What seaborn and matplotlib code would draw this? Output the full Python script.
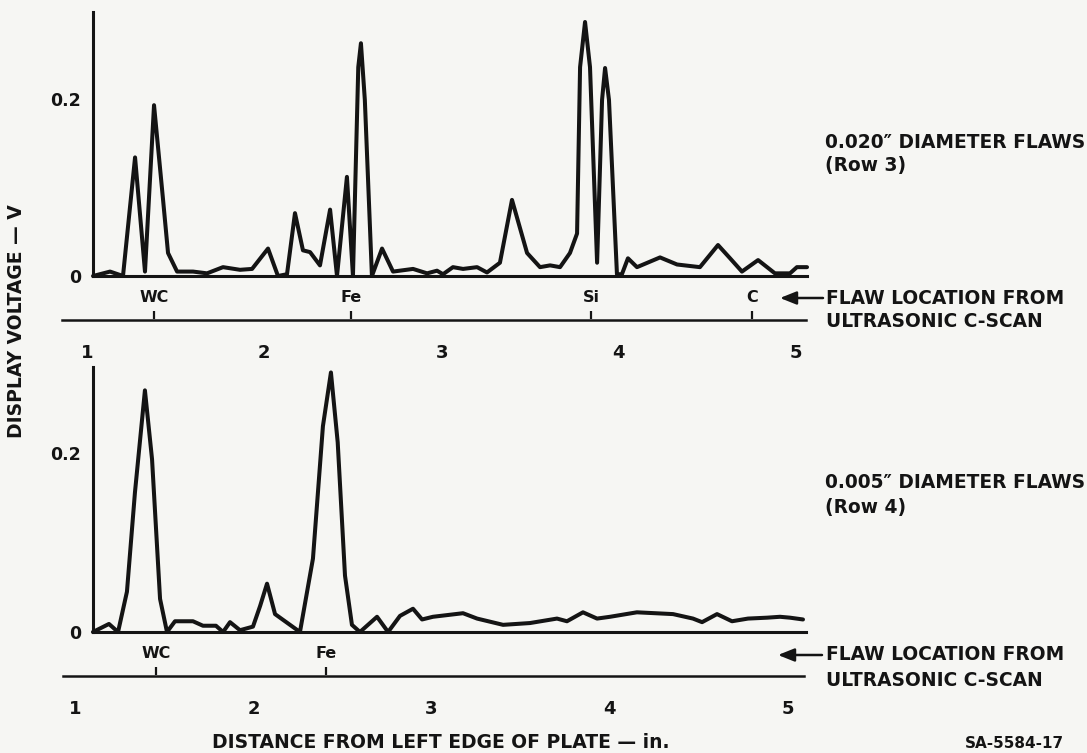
import matplotlib
matplotlib.use("Agg")
import matplotlib.pyplot as plt
import seaborn as sns
import pandas as pd
from matplotlib.patches import FancyArrowPatch

# ---------------- data ----------------
# Row 3 trace: distance (in.) and display voltage (V)
top_x = [1.034, 1.130, 1.203, 1.271, 1.327, 1.378, 1.429, 1.457, 1.508, 1.598,
         1.677, 1.767, 1.863, 1.931, 2.021, 2.077, 2.128, 2.173, 2.218, 2.258,
         2.314, 2.371, 2.410, 2.466, 2.500, 2.530, 2.545, 2.567, 2.607, 2.664,
         2.726, 2.839, 2.918, 2.974, 3.008, 3.064, 3.121, 3.200, 3.256, 3.329,
         3.397, 3.482, 3.555, 3.612, 3.668, 3.724, 3.764, 3.781, 3.809, 3.837,
         3.877, 3.905, 3.922, 3.944, 3.989, 4.017, 4.051, 4.102, 4.232, 4.328,
         4.457, 4.559, 4.627, 4.694, 4.785, 4.880, 4.965, 5.004, 5.061]
top_v = [0.000, 0.005, 0.000, 0.134, 0.005, 0.193, 0.086, 0.026, 0.005, 0.005,
         0.003, 0.010, 0.007, 0.008, 0.031, 0.000, 0.002, 0.071, 0.029, 0.027,
         0.012, 0.075, 0.000, 0.112, 0.000, 0.236, 0.263, 0.199, 0.000, 0.031,
         0.005, 0.008, 0.003, 0.006, 0.002, 0.010, 0.008, 0.010, 0.004, 0.015,
         0.086, 0.026, 0.010, 0.012, 0.010, 0.026, 0.048, 0.236, 0.287, 0.236,
         0.015, 0.199, 0.235, 0.199, 0.002, 0.002, 0.020, 0.010, 0.021, 0.013,
         0.010, 0.035, 0.020, 0.005, 0.018, 0.003, 0.003, 0.010, 0.010]

# Row 4 trace
bot_x = [1.098, 1.188, 1.239, 1.289, 1.334, 1.390, 1.430, 1.475, 1.514, 1.559,
         1.660, 1.716, 1.789, 1.829, 1.868, 1.924, 1.997, 2.037, 2.076, 2.121,
         2.205, 2.261, 2.334, 2.390, 2.435, 2.473, 2.514, 2.553, 2.598, 2.694,
         2.756, 2.823, 2.896, 2.947, 3.008, 3.177, 3.256, 3.402, 3.553, 3.705,
         3.761, 3.851, 3.930, 4.003, 4.154, 4.357, 4.469, 4.520, 4.604, 4.688,
         4.778, 4.885, 4.958, 5.014, 5.087]
bot_v = [0.000, 0.009, 0.000, 0.045, 0.156, 0.270, 0.193, 0.037, 0.000, 0.012,
         0.012, 0.007, 0.007, 0.000, 0.011, 0.002, 0.006, 0.029, 0.054, 0.020,
         0.008, 0.000, 0.082, 0.230, 0.290, 0.212, 0.063, 0.008, 0.000, 0.017,
         0.000, 0.018, 0.026, 0.014, 0.017, 0.021, 0.015, 0.008, 0.010, 0.015,
         0.012, 0.022, 0.015, 0.017, 0.022, 0.020, 0.015, 0.011, 0.020, 0.012,
         0.015, 0.016, 0.017, 0.016, 0.014]

ruler_ticks = [1, 2, 3, 4, 5]
ruler_labels = ["1", "2", "3", "4", "5"]
y_ticks = [0, 0.2]
y_labels = ["0", "0.2"]

top_flaw_names = ["WC", "Fe", "Si", "C"]
top_flaw_pos = [1.378, 2.489, 3.843, 4.751]
bot_flaw_names = ["WC", "Fe"]
bot_flaw_pos = [1.452, 2.407]

top_caption = ["0.020\u2033 DIAMETER FLAWS", "(Row 3)"]
bot_caption = ["0.005\u2033 DIAMETER FLAWS", "(Row 4)"]
flaw_note = ["FLAW LOCATION FROM", "ULTRASONIC C-SCAN"]
y_title = "DISPLAY VOLTAGE \u2014 V"
x_title = "DISTANCE FROM LEFT EDGE OF PLATE \u2014 in."
fig_id = "SA-5584-17"

# ---------------- style ----------------
sns.set_theme(style="white")
plt.rcParams["font.family"] = ["DejaVu Sans"]
plt.rcParams["font.weight"] = "bold"
INK = "#141414"
BG = "#f6f6f3"

W, H = 1087, 753
PT = 0.72  # points per pixel at dpi 100


def rect(l, t, r, b):
    return [l / W, 1 - b / H, (r - l) / W, (b - t) / H]


def fp(x, y):
    return (x / W, 1 - y / H)


fig = plt.figure(figsize=(W / 100, H / 100), dpi=100, facecolor=BG)


def panel(x, v, box, xlim, ymax):
    ax = fig.add_axes(rect(*box))
    ax.set_facecolor("none")
    df = pd.DataFrame({"x": x, "v": v})
    sns.lineplot(data=df, x="x", y="v", ax=ax, color=INK, linewidth=2.9,
                 estimator=None, sort=False)
    for ln in ax.lines:
        ln.set_clip_on(False)
        ln.set_solid_joinstyle("round")
        ln.set_solid_capstyle("round")
    ax.set_xlim(*xlim)
    ax.set_ylim(0, ymax)
    for s in ["top", "right"]:
        ax.spines[s].set_visible(False)
    for s in ["left", "bottom"]:
        ax.spines[s].set_linewidth(2.2)
        ax.spines[s].set_color(INK)
    ax.set_xticks([])
    ax.set_yticks(y_ticks, labels=y_labels)
    ax.tick_params(axis="y", direction="in", length=26 * PT, width=1.8,
                   pad=12 * PT, labelsize=12.5, colors=INK)
    ax.set_xlabel("")
    ax.set_ylabel("")
    return ax


def ruler(box_l, box_r, y, xlim, names, pos):
    rax = fig.add_axes(rect(box_l, y - 0.5, box_r, y))
    rax.set_facecolor("none")
    rax.set_xlim(*xlim)
    rax.set_yticks([])
    for s in ["top", "right", "left"]:
        rax.spines[s].set_visible(False)
    rax.spines["bottom"].set_linewidth(1.8)
    rax.spines["bottom"].set_color(INK)
    rax.set_xticks(ruler_ticks, labels=ruler_labels)
    rax.tick_params(axis="x", direction="out", length=17 * PT, width=1.8,
                    pad=7 * PT, labelsize=13, colors=INK)
    sec = rax.secondary_xaxis("top")
    sec.set_xticks(pos, labels=names)
    sec.tick_params(axis="x", direction="out", length=8 * PT, width=1.6,
                    pad=6 * PT, labelsize=11.5, colors=INK)
    sec.spines["top"].set_visible(False)
    return rax


# Row 3 panel
panel(top_x, top_v, (93, 12, 807, 276), (1.0338, 5.0609), 0.2983)
ruler(62, 806, 320, (0.859, 5.0553), top_flaw_names, top_flaw_pos)

# Row 4 panel
panel(bot_x, bot_v, (93, 367, 806, 632), (1.0983, 5.1039), 0.2961)
ruler(63, 804, 676, (0.9298, 5.0927), bot_flaw_names, bot_flaw_pos)

# captions
txt = dict(color=INK, fontsize=13.4, fontweight="bold", ha="left", va="center")
fig.text(*fp(825, 142), top_caption[0], **txt)
fig.text(*fp(825, 165), top_caption[1], **txt)
fig.text(*fp(825, 482), bot_caption[0], **txt)
fig.text(*fp(825, 507), bot_caption[1], **txt)
fig.text(*fp(826, 298), flaw_note[0], **txt)
fig.text(*fp(826, 321), flaw_note[1], **txt)
fig.text(*fp(826, 655), flaw_note[0], **txt)
fig.text(*fp(826, 680), flaw_note[1], **txt)

for yy, x0, x1 in [(298, 823, 780), (655, 822, 778)]:
    arr = FancyArrowPatch(fp(x0, yy), fp(x1, yy), transform=fig.transFigure,
                          arrowstyle="-|>,head_length=0.7,head_width=0.28",
                          mutation_scale=14, lw=1.8, color=INK,
                          shrinkA=0, shrinkB=0)
    fig.add_artist(arr)

fig.text(*fp(17, 321), y_title, rotation=90, ha="center", va="center",
         fontsize=13.5, fontweight="bold", color=INK)
fig.text(*fp(441, 742), x_title, ha="center", va="center",
         fontsize=13.5, fontweight="bold", color=INK)
fig.text(*fp(965, 751), fig_id, ha="left", va="bottom",
         fontsize=11, fontweight="bold", color=INK)

fig.savefig("out.png", dpi=100, facecolor=BG)
